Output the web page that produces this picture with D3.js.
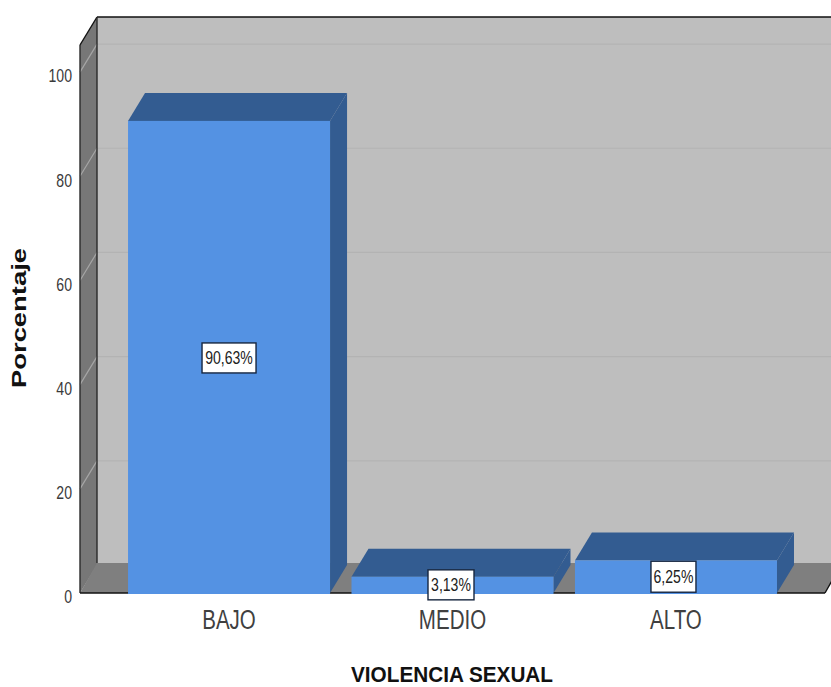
<!DOCTYPE html>
<html><head><meta charset="utf-8">
<script src="https://cdn.jsdelivr.net/npm/d3@7/dist/d3.min.js"></script>
<style>html,body{margin:0;padding:0;background:#fff;overflow:hidden}svg{display:block}text{font-family:"Liberation Sans",Arial,sans-serif}</style>
</head><body><svg id="c" width="831" height="687"></svg>
<script>
const categories = ["BAJO","MEDIO","ALTO"];
const values = [90.63,3.13,6.25];
const valueLabels = ["90,63%","3,13%","6,25%"];
const yTicks = [0,20,40,60,80,100];
const yAxisTitle = "Porcentaje";
const xAxisTitle = "VIOLENCIA SEXUAL";

const leftX=80,rightX=825,bottomY=593,topY=45;
const dx=17,dy=-28;
const svg=d3.select("#c");
const y=d3.scaleLinear().domain([0,105.2]).range([bottomY,topY]);
const x=d3.scaleBand().domain(categories).range([117.3,787.7]).paddingInner(0.096).paddingOuter(0.048);
const poly=(pts,fill,stroke)=>svg.append("polygon").attr("points",pts.map(p=>p.join(",")).join(" ")).attr("fill",fill).attr("stroke",stroke||"none");
const squeeze=(sel,f)=>sel.each(function(){const l=this.getComputedTextLength();this.setAttribute("textLength",l*f);this.setAttribute("lengthAdjust","spacingAndGlyphs");});

// walls
poly([[leftX+dx,topY+dy],[rightX+dx,topY+dy],[rightX+dx,bottomY+dy-2],[leftX+dx,bottomY+dy-2]],"#bebebe");
poly([[leftX,topY],[leftX+dx,topY+dy],[leftX+dx,bottomY+dy],[leftX,bottomY]],"#777777");
poly([[leftX,bottomY],[leftX+dx,bottomY+dy-2],[rightX+dx,bottomY+dy-2],[rightX,bottomY]],"#7f7f7f");

// gridlines
yTicks.filter(d=>d>0).forEach(d=>{
  svg.append("line").attr("x1",leftX).attr("x2",leftX+dx).attr("y1",y(d)).attr("y2",y(d)+dy).attr("stroke","#a6a6a6").attr("stroke-width",1.2);
  svg.append("line").attr("x1",leftX+dx).attr("x2",rightX+dx).attr("y1",y(d)+dy).attr("y2",y(d)+dy).attr("stroke","#b3b3b3").attr("stroke-width",1.2);
});

// frame
const frame=[[[leftX,bottomY],[leftX,topY]],[[leftX,topY],[leftX+dx,topY+dy]],[[leftX+dx,topY+dy],[rightX+dx,topY+dy]],[[leftX+dx,topY+dy],[leftX+dx,bottomY+dy-2]],[[leftX,bottomY],[rightX,bottomY]],[[rightX,bottomY],[rightX+dx,bottomY+dy-2]]];
frame.forEach(([a,b],i)=>svg.append("line").attr("x1",a[0]).attr("y1",a[1]).attr("x2",b[0]).attr("y2",b[1]).attr("stroke",i===3||i===0?"#2a2a2a":"#111").attr("stroke-width",i===4?1.6:1.4));

// bars
categories.forEach((c,i)=>{
  const x0=x(c),x1=x0+x.bandwidth(),yt=y(values[i]);
  poly([[x1,yt],[x1+dx,yt+dy],[x1+dx,bottomY+dy],[x1,bottomY]],"#335c91");
  poly([[x0,yt],[x0+dx,yt+dy],[x1+dx,yt+dy],[x1,yt]],"#335c91");
  svg.append("rect").attr("x",x0).attr("y",yt).attr("width",x.bandwidth()).attr("height",bottomY-yt+1).attr("fill","#5492e3");
});

// value labels
const boxW=[54,46,45],boxH=[30,30,31];
categories.forEach((c,i)=>{
  const cx=x(c)+x.bandwidth()/2-1.5+(i==0?1.5:i==1?0:-1), cy=(y(values[i])+bottomY)/2+(i==0?1:0);
  svg.append("rect").attr("x",cx-boxW[i]/2).attr("y",cy-boxH[i]/2).attr("width",boxW[i]).attr("height",boxH[i]).attr("fill","#fff").attr("stroke","#16263f").attr("stroke-width",1.4);
  svg.append("text").attr("x",cx).attr("y",cy+6).attr("text-anchor","middle").attr("font-size",18).attr("fill","#222").text(valueLabels[i]).call(squeeze,0.78);
});

// y axis labels
const yAxis=svg.append("g").attr("transform",`translate(${leftX},0)`).call(d3.axisLeft(y).tickValues(yTicks).tickSize(0).tickPadding(8));
yAxis.select(".domain").remove();
yAxis.selectAll("text").attr("font-size",19).attr("font-family",'"Liberation Sans",Arial,sans-serif').attr("fill","#3a3a3a").attr("dy","0.62em").attr("y",-2).call(squeeze,0.74);

// x axis labels
const xAxis=svg.append("g").attr("transform",`translate(0,${bottomY})`).call(d3.axisBottom(x).tickSize(0).tickPadding(17));
xAxis.select(".domain").remove();
xAxis.selectAll("text").attr("font-size",27).attr("font-family",'"Liberation Sans",Arial,sans-serif').attr("fill","#404040").call(squeeze,0.76);

// titles
svg.append("text").attr("x",452).attr("y",682).attr("text-anchor","middle").attr("font-size",22).attr("font-weight","bold").attr("fill","#111").text(xAxisTitle).attr("textLength",202).attr("lengthAdjust","spacingAndGlyphs");
svg.append("text").attr("transform","translate(26,318) rotate(-90)").attr("text-anchor","middle").attr("font-size",21).attr("font-weight","bold").attr("fill","#111").text(yAxisTitle).attr("textLength",140).attr("lengthAdjust","spacingAndGlyphs");
</script></body></html>
